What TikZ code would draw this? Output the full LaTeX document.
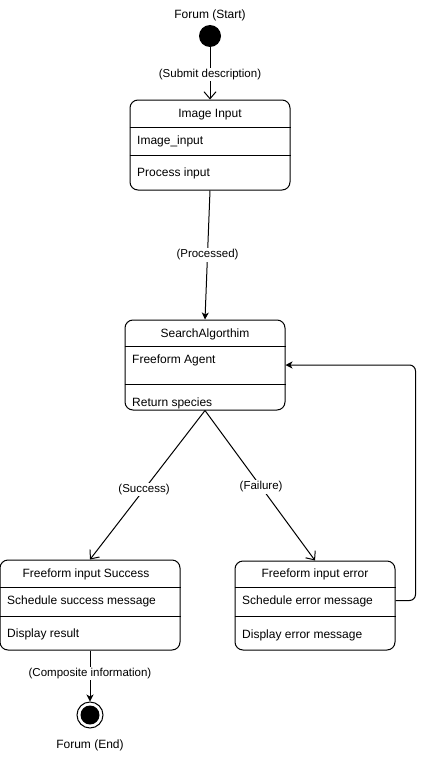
\documentclass[tikz,border=0pt]{standalone}
\usepackage{fontspec}
\setmainfont{Liberation Sans}
\usetikzlibrary{positioning,arrows.meta,calc}

\begin{document}
\begin{tikzpicture}[
  x=1pt, y=-1pt,
  statebox/.style={rectangle, draw, rounded corners=8pt, line width=1pt, minimum width=160pt, minimum height=90pt},
  title/.style={font=\fontsize{12}{14}\selectfont, inner sep=0pt},
  item/.style={font=\fontsize{12}{14}\selectfont, inner sep=0pt, anchor=west},
  sep/.style={line width=1pt},
  open/.style={-{Straight Barb[length=7pt, width=12pt]}, line width=1pt},
  arrow/.style={-{Stealth[length=7pt, width=7pt, inset=2pt]}, line width=1pt},
  label/.style={font=\fontsize{11.5}{13}\selectfont, fill=white, inner sep=1.5pt},
]
\useasboundingbox (0,0) rectangle (424,760);

% === START ===
\node[circle, fill=black, minimum size=22pt, inner sep=0pt] (start) at (210,36) {};
\node[title, above=4pt of start] (starttxt) {Forum (Start)};

% === IMAGE INPUT ===
\node[statebox] (img) at (210,145) {};
\node[title] (imgtitle) at (210,115) {Image Input};
\draw[sep] ($(img.west)+(0,-18)$) -- ($(img.east)+(0,-18)$);
\node[item] (imgin) at (137,141) {Image\_input};
\draw[sep] ($(img.west)+(0,10)$) -- ($(img.east)+(0,10)$);
\node[item] (imgproc) at (137,173) {Process input};

% === SEARCH ALGORITHM ===
\node[statebox] (search) at (205,365) {};
\node[title] (searchtitle) at (205,334) {SearchAlgorthim};
\draw[sep] ($(search.west)+(0,-19)$) -- ($(search.east)+(0,-19)$);
\node[item] (agent) at (132,360) {Freeform Agent};
\draw[sep] ($(search.west)+(0,19)$) -- ($(search.east)+(0,19)$);
\node[item] (species) at (132,403) {Return species};

% === SUCCESS ===
\node[statebox, minimum width=180pt] (succ) at (90,605) {};
\node[title] (succtitle) at (86,574) {Freeform input Success};
\draw[sep] ($(succ.west)+(0,-18)$) -- ($(succ.east)+(0,-18)$);
\node[item] (succmsg) at (7,601) {Schedule success message};
\draw[sep] ($(succ.west)+(0,11)$) -- ($(succ.east)+(0,11)$);
\node[item] (succres) at (7,634) {Display result};

% === ERROR ===
\node[statebox, minimum height=89pt] (err) at (315,605.5) {};
\node[title] (errtitle) at (315,574) {Freeform input error};
\draw[sep] ($(err.west)+(0,-18.5)$) -- ($(err.east)+(0,-18.5)$);
\node[item] (errmsg) at (242,601) {Schedule error message};
\draw[sep] ($(err.west)+(0,10.5)$) -- ($(err.east)+(0,10.5)$);
\node[item] (errshow) at (242,635) {Display error message};

% === END ===
\node[circle, draw, line width=1pt, minimum size=26pt, inner sep=0pt] (end) at (90,715) {};
\node[circle, fill=black, minimum size=19pt, inner sep=0pt] (endin) at (end.center) {};
\node[title, below=11pt of end] (endtxt) {Forum (End)};

% === TRANSITIONS ===
\draw[open] (start.south) -- node[label, pos=0.52]{(Submit description)} (img.north);
\draw[arrow] (img.south) -- node[label, pos=0.5]{(Processed)} (search.north);
\draw[open] (search.south) -- node[label, pos=0.53]{(Success)} (succ.north);
\draw[open] (search.south) -- node[label, pos=0.51]{(Failure)} (err.north);
\draw[arrow, rounded corners=6pt] ([yshift=5pt]err.east) -- ++(20,0) |- (search.east);
\draw[arrow] (succ.south) -- node[label, pos=0.45]{(Composite information)} (end.north);
\end{tikzpicture}
\end{document}
